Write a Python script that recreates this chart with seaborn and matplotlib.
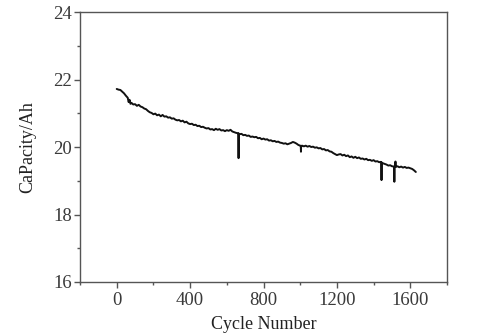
import matplotlib
matplotlib.use('Agg')
import matplotlib.pyplot as plt
import pandas as pd
import seaborn as sns
from matplotlib.ticker import MultipleLocator

# Values
cycles = [
    0, 10, 20, 30, 40, 50, 60, 65, 70, 75, 80, 90, 100, 110, 120, 130, 140,
    150, 160, 170, 180, 190, 200, 210, 220, 230, 240, 250, 260, 270, 280,
    290, 300, 310, 320, 330, 340, 350, 360, 370, 380, 390, 400, 410, 420,
    430, 440, 450, 460, 470, 480, 490, 500, 510, 520, 530, 540, 550, 560,
    570, 580, 590, 600, 610, 620, 630, 640, 650, 660, 663, 664, 665, 670,
    680, 690, 700, 710, 720, 730, 740, 750, 760, 770, 780, 790, 800, 810,
    820, 830, 840, 850, 860, 870, 880, 890, 900, 910, 920, 930, 940, 950,
    960, 970, 980, 990, 1000, 1003, 1004, 1005, 1010, 1020, 1030, 1040,
    1050, 1060, 1070, 1080, 1090, 1100, 1110, 1120, 1130, 1140, 1150, 1160,
    1170, 1180, 1190, 1200, 1210, 1220, 1230, 1240, 1250, 1260, 1270, 1280,
    1290, 1300, 1310, 1320, 1330, 1340, 1350, 1360, 1370, 1380, 1390, 1400,
    1410, 1420, 1430, 1440, 1442, 1443, 1444, 1450, 1460, 1470, 1480, 1490,
    1500, 1510, 1512, 1513, 1514, 1518, 1519, 1520, 1530, 1540, 1550, 1560,
    1570, 1580, 1590, 1600, 1610, 1620, 1630]
capacity = [
    21.72, 21.70, 21.69, 21.64, 21.59, 21.52, 21.46, 21.33, 21.40, 21.28,
    21.31, 21.26, 21.27, 21.22, 21.25, 21.20, 21.18, 21.14, 21.12, 21.07,
    21.03, 21.01, 20.97, 20.99, 20.94, 20.96, 20.91, 20.95, 20.90, 20.91,
    20.87, 20.88, 20.84, 20.85, 20.81, 20.79, 20.80, 20.76, 20.78, 20.73,
    20.75, 20.70, 20.68, 20.69, 20.65, 20.66, 20.62, 20.63, 20.59, 20.60,
    20.57, 20.55, 20.56, 20.52, 20.53, 20.50, 20.54, 20.51, 20.53, 20.49,
    20.50, 20.47, 20.50, 20.48, 20.51, 20.46, 20.44, 20.42, 20.41, 20.40,
    19.67, 20.40, 20.38, 20.39, 20.35, 20.36, 20.33, 20.34, 20.30, 20.31,
    20.29, 20.30, 20.26, 20.27, 20.23, 20.25, 20.22, 20.23, 20.19, 20.20,
    20.17, 20.18, 20.15, 20.16, 20.13, 20.12, 20.10, 20.11, 20.08, 20.10,
    20.12, 20.15, 20.13, 20.10, 20.06, 20.04, 20.03, 19.86, 20.03, 20.04,
    20.02, 20.04, 20.01, 20.03, 20.00, 20.01, 19.98, 19.99, 19.96, 19.97,
    19.93, 19.94, 19.90, 19.91, 19.87, 19.86, 19.82, 19.79, 19.76, 19.78,
    19.79, 19.75, 19.77, 19.73, 19.75, 19.70, 19.72, 19.68, 19.71, 19.67,
    19.69, 19.65, 19.66, 19.63, 19.65, 19.61, 19.62, 19.59, 19.61, 19.57,
    19.58, 19.55, 19.56, 19.55, 19.02, 19.54, 19.52, 19.50, 19.48, 19.45,
    19.46, 19.43, 19.42, 19.42, 18.97, 19.42, 19.41, 19.57, 19.41, 19.43,
    19.40, 19.42, 19.39, 19.41, 19.38, 19.39, 19.37, 19.35, 19.31, 19.26]
x_ticks = [0, 400, 800, 1200, 1600]
y_ticks = [16, 18, 20, 22, 24]

df = pd.DataFrame({'Cycle Number': cycles, 'CaPacity/Ah': capacity})

sns.set_style('ticks')
plt.rcParams['font.family'] = ['Liberation Serif', 'DejaVu Serif']

fig = plt.figure(figsize=(4.8, 3.34), dpi=100)
ax = fig.add_axes([0.1667, 0.1557, 0.7646, 0.8083])
sns.lineplot(data=df, x='Cycle Number', y='CaPacity/Ah', ax=ax,
             color='#111111', linewidth=1.4, sort=False)
ax.lines[0].set_solid_joinstyle('round')

ax.set_xlim(-200, 1800)
ax.set_ylim(16, 24)
ax.set_xticks(x_ticks)
ax.set_yticks(y_ticks)
ax.xaxis.set_minor_locator(MultipleLocator(200))
ax.yaxis.set_minor_locator(MultipleLocator(1))
ax.tick_params(which='major', direction='out', length=4, width=1,
               labelsize=13.5, labelcolor='#3a3a3a', color='#555555')
ax.tick_params(which='minor', direction='out', length=2.5, width=1,
               color='#555555')
ax.tick_params(axis='x', pad=3)
ax.tick_params(axis='y', pad=2)
for s in ax.spines.values():
    s.set_color('#555555')
    s.set_linewidth(1.0)
ax.set_xlabel('Cycle Number', fontsize=13, color='#222222', labelpad=5)
ax.set_ylabel('CaPacity/Ah', fontsize=13, color='#222222', labelpad=12)

fig.savefig('out.png', dpi=100)
